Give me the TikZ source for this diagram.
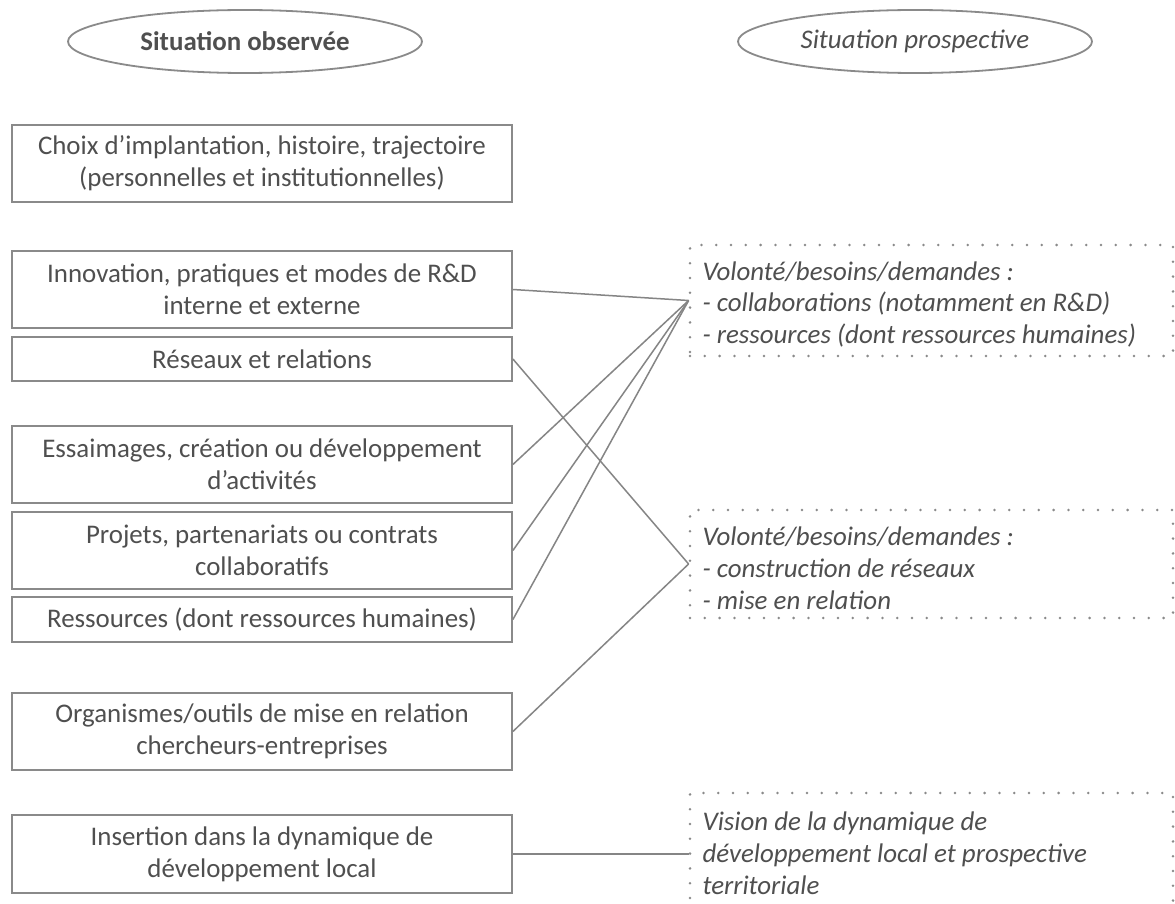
\documentclass[tikz,border=0pt]{standalone}
\usepackage{fontspec}
\setmainfont{Carlito}
\usetikzlibrary{shapes.geometric}
\definecolor{txtgray}{HTML}{4F4F4F}
\definecolor{boxgray}{HTML}{8A8A8A}
\definecolor{linegray}{HTML}{858585}
\newcommand{\dfont}{\fontsize{26.9}{31.8}\selectfont}
\newcommand{\dtext}[1]{\raisebox{-4pt}[\height][\depth]{\parbox{458pt}{\raggedright #1}}}
\tikzset{
  every node/.style={text=txtgray, font=\dfont},
  titleell/.style={ellipse, draw=boxgray, line width=1.8pt, minimum width=354pt, minimum height=63pt, inner sep=0pt},
  lbox/.style={draw=boxgray, line width=1.8pt, minimum width=500pt, align=flush center, text width=494pt, inner sep=0pt},
  dbox/.style={draw=boxgray, line width=2.8pt, line cap=round, dash pattern=on 0pt off 14.8pt, minimum width=483pt, inner xsep=12.5pt, inner ysep=0pt, font=\dfont\itshape},
  conn/.style={draw=linegray, line width=1.5pt}
}
\begin{document}
\begin{tikzpicture}[x=1pt,y=-1pt]
\useasboundingbox (0,0) rectangle (1175,904);
\fill[white] (0,0) rectangle (1175,904);
% titles
\node[titleell, font=\dfont\bfseries] (tl) at (245,41.5) {Situation observée};
\node[titleell, font=\dfont\itshape] (tr) at (915,41.5) {Situation prospective};
% left boxes
\node[lbox, minimum height=77pt] (b1) at (262,163.5) {Choix d’implantation, histoire, trajectoire\\(personnelles et institutionnelles)};
\node[lbox, minimum height=77pt] (b2) at (262,289.5) {Innovation, pratiques et modes de R\&D\\interne et externe};
\node[lbox, minimum height=44pt] (b3) at (262,359) {Réseaux et relations};
\node[lbox, minimum height=77pt] (b4) at (262,464.5) {Essaimages, création ou développement\\d’activités};
\node[lbox, minimum height=77pt] (b5) at (262,550.5) {Projets, partenariats ou contrats\\collaboratifs};
\node[lbox, minimum height=45pt] (b6) at (262,619.5) {Ressources (dont ressources humaines)};
\node[lbox, minimum height=77pt] (b7) at (262,731.5) {Organismes/outils de mise en relation\\chercheurs-entreprises};
\node[lbox, minimum height=78pt] (b8) at (262,854) {Insertion dans la dynamique de\\développement local};
% right dotted boxes
\node[dbox, minimum height=111pt] (ra) at (931.5,300.5) {\dtext{Volonté/besoins/demandes :\\- collaborations (notamment en R\&D)\\- ressources (dont ressources humaines)}};
\node[dbox, minimum height=108pt] (rb) at (931.5,564) {\dtext{Volonté/besoins/demandes :\\- construction de réseaux\\- mise en relation}};
\node[dbox, minimum height=113pt] (rc) at (931.5,849.5) {\dtext{Vision de la dynamique de\\développement local et prospective\\territoriale}};
% connectors
\draw[conn] (b2.east) -- (ra.west);
\draw[conn] (b4.east) -- (ra.west);
\draw[conn] (b5.east) -- (ra.west);
\draw[conn] (b6.east) -- (ra.west);
\draw[conn] (b3.east) -- (rb.west);
\draw[conn] (b7.east) -- (rb.west);
\draw[conn] (b8.east) -- (b8.east -| rc.west);
\end{tikzpicture}
\end{document}
